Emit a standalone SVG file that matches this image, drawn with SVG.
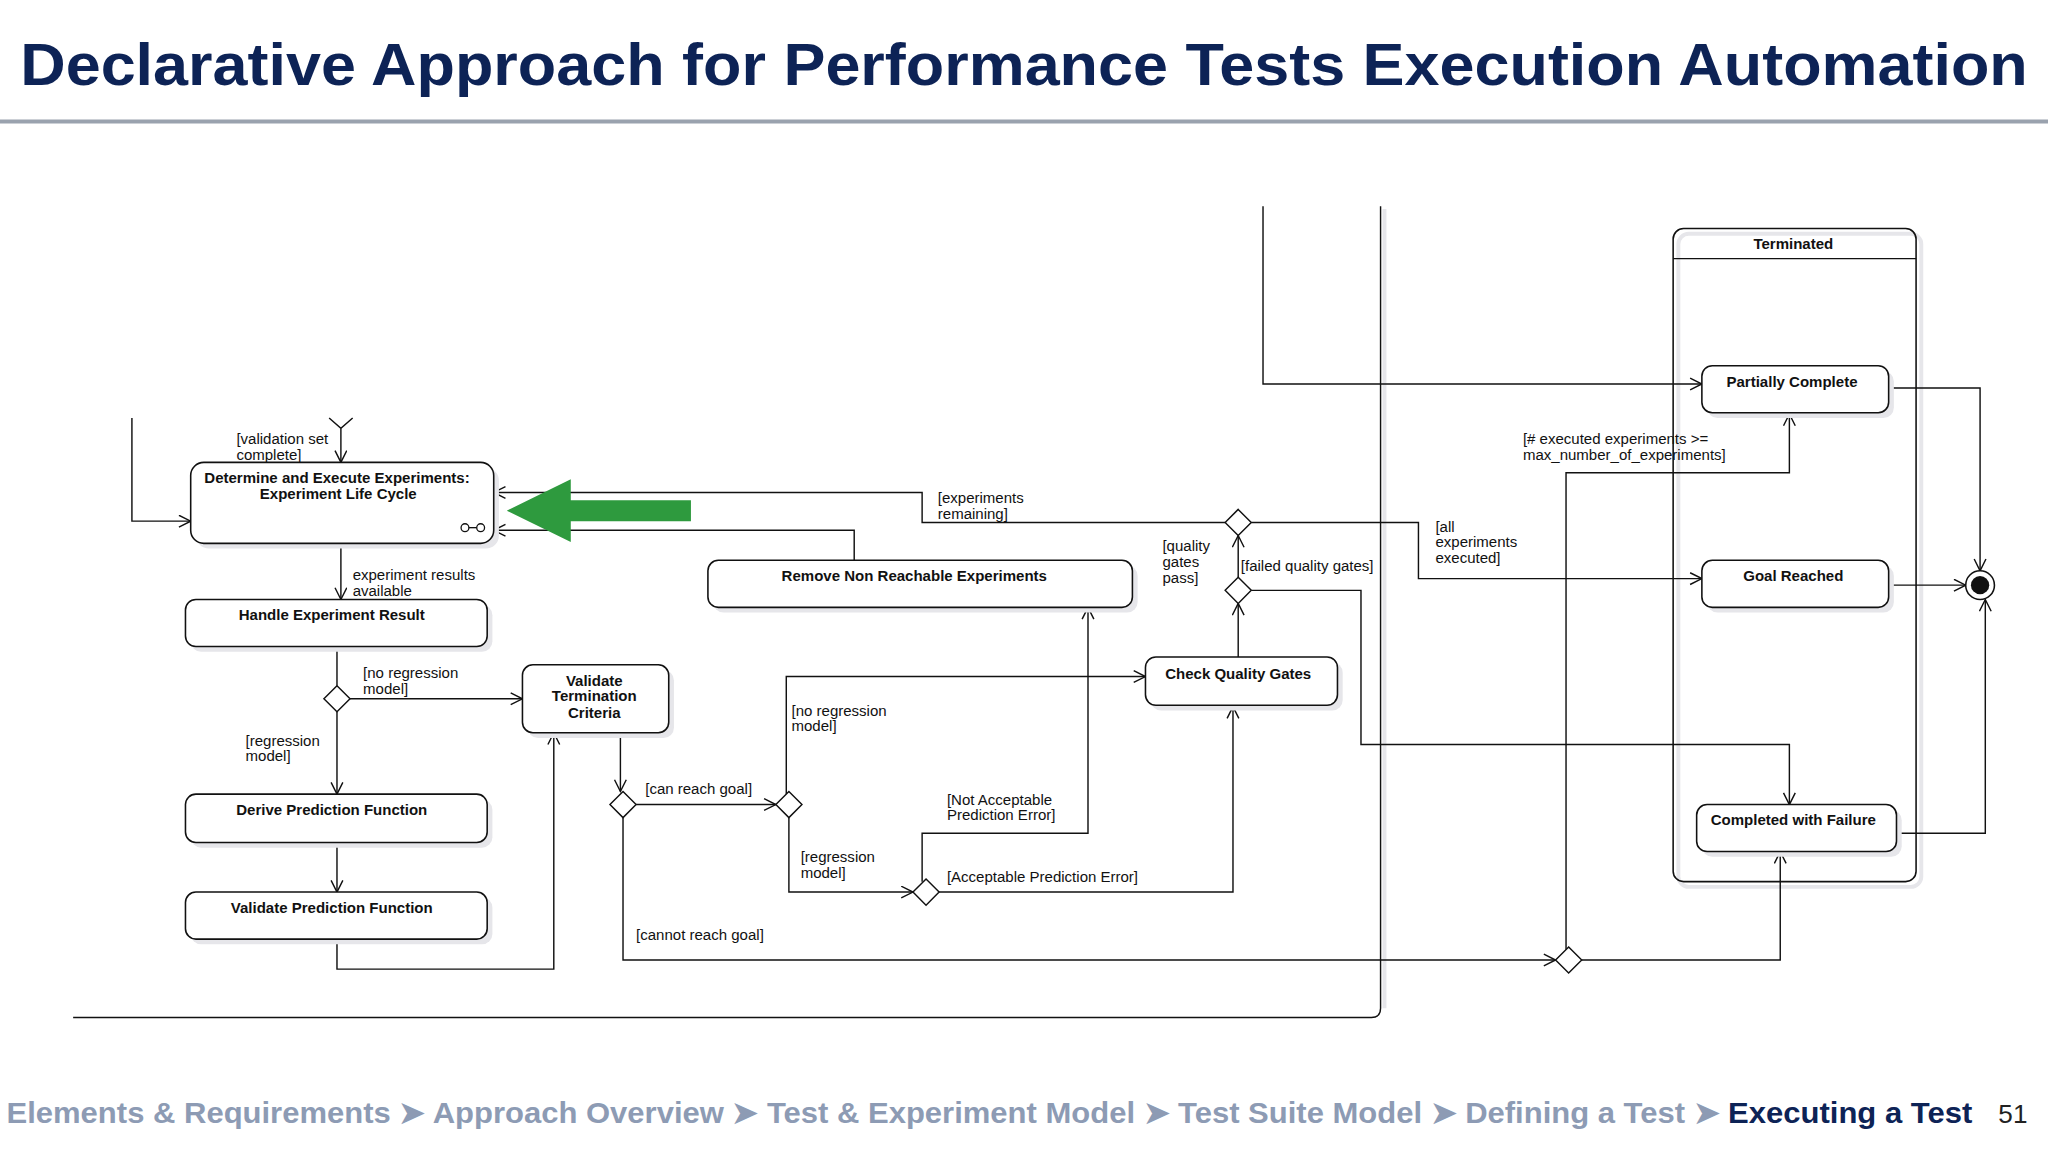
<svg xmlns="http://www.w3.org/2000/svg" width="2048" height="1152" viewBox="0 0 2048 1152">
<defs>
<style>
.t{font-family:"Liberation Sans",Arial,sans-serif;font-size:11.5px;fill:#111}
.b{font-family:"Liberation Sans",Arial,sans-serif;font-size:11.5px;font-weight:bold;fill:#111;text-anchor:middle}
.n{fill:#fff;stroke:#111;stroke-width:1.2}
.sh{fill:#e6e6ea}
.c{fill:none;stroke:#111;stroke-width:1.1}
.d{fill:#fff;stroke:#111;stroke-width:1.1}
.bc{font-family:"Century Gothic","Liberation Sans",Arial,sans-serif;font-size:23px;font-weight:bold;fill:#8d9bb4}
</style>
<marker id="a" markerWidth="12" markerHeight="12" refX="10" refY="5" orient="auto" markerUnits="userSpaceOnUse">
<polyline points="1,0.5 10,5 1,9.5" fill="none" stroke="#111" stroke-width="1.1"/>
</marker>
</defs>
<rect width="2048" height="1152" fill="#fff"/>
<g transform="scale(1.30612)">
<g id="title">
<text x="784" y="65" text-anchor="middle" textLength="1537" lengthAdjust="spacingAndGlyphs" style="font-family:'Liberation Sans',Arial,sans-serif;font-size:46px;font-weight:bold;fill:#0d2356">Declarative Approach for Performance Tests Execution Automation</text>
<line x1="0" y1="93" x2="1568" y2="93" stroke="#9aa2ae" stroke-width="3"/>
</g>
<g id="terminated">
<rect x="1285" y="179" width="186" height="500" rx="8" fill="none" stroke="#e6e6ea" stroke-width="3"/>
<rect x="1281" y="175" width="186" height="500" rx="8" fill="none" stroke="#111" stroke-width="1.2"/>
<line x1="1281" y1="198" x2="1467" y2="198" stroke="#111" stroke-width="1.1"/>
<text class="b" x="1373" y="191">Terminated</text>
</g>
<g id="connectors">
<polyline class="c" points="101,320 101,399 146,399" marker-end="url(#a)"/>
<path d="M1060,160 V772" stroke="#e6e6ea" stroke-width="3" fill="none"/>
<path class="c" d="M56,779 H1050 Q1057,779 1057,772 V158"/>
<polyline class="c" points="967,158 967,294 1303,294" marker-end="url(#a)"/>
<polyline class="c" points="252,320 261,328 270,320"/>
<line class="c" x1="261" y1="328" x2="261" y2="354" marker-end="url(#a)"/>
<line class="c" x1="261" y1="416" x2="261" y2="459" marker-end="url(#a)"/>
<line class="c" x1="258" y1="495" x2="258" y2="525"/>
<line class="c" x1="268" y1="535" x2="400" y2="535" marker-end="url(#a)"/>
<line class="c" x1="258" y1="545" x2="258" y2="608" marker-end="url(#a)"/>
<line class="c" x1="258" y1="645" x2="258" y2="683" marker-end="url(#a)"/>
<polyline class="c" points="258,719 258,742 424,742 424,561" marker-end="url(#a)"/>
<line class="c" x1="475" y1="561" x2="475" y2="606" marker-end="url(#a)"/>
<line class="c" x1="487" y1="616" x2="594" y2="616" marker-end="url(#a)"/>
<polyline class="c" points="477,626 477,735 1191,735" marker-end="url(#a)"/>
<polyline class="c" points="602,608 602,518 877,518" marker-end="url(#a)"/>
<polyline class="c" points="604,626 604,683 699,683" marker-end="url(#a)"/>
<polyline class="c" points="706,675 706,638 833,638 833,465" marker-end="url(#a)"/>
<polyline class="c" points="719,683 944,683 944,541" marker-end="url(#a)"/>
<line class="c" x1="948" y1="503" x2="948" y2="462" marker-end="url(#a)"/>
<line class="c" x1="948" y1="442" x2="948" y2="410" marker-end="url(#a)"/>
<polyline class="c" points="958,452 1042,452 1042,570 1370,570 1370,616" marker-end="url(#a)"/>
<polyline class="c" points="938,400 706,400 706,377 378,377" marker-end="url(#a)"/>
<polyline class="c" points="958,400 1086,400 1086,443 1303,443" marker-end="url(#a)"/>
<polyline class="c" points="654,429 654,406 378,406" marker-end="url(#a)"/>
<polyline class="c" points="1199,727 1199,362 1370,362 1370,317" marker-end="url(#a)"/>
<polyline class="c" points="1211,735 1363,735 1363,652" marker-end="url(#a)"/>
<polyline class="c" points="1446,297 1516,297 1516,437" marker-end="url(#a)"/>
<line class="c" x1="1446" y1="448" x2="1505" y2="448" marker-end="url(#a)"/>
<polyline class="c" points="1452,638 1520,638 1520,459" marker-end="url(#a)"/>
<polygon class="d" points="258,525 268,535 258,545 248,535"/>
<polygon class="d" points="477,606 487,616 477,626 467,616"/>
<polygon class="d" points="604,606 614,616 604,626 594,616"/>
<polygon class="d" points="709,673 719,683 709,693 699,683"/>
<polygon class="d" points="948,390 958,400 948,410 938,400"/>
<polygon class="d" points="948,442 958,452 948,462 938,452"/>
<polygon class="d" points="1201,725 1211,735 1201,745 1191,735"/>
<text class="t" x="181" y="340">[validation set</text><text class="t" x="181" y="352">complete]</text>
<text class="t" x="270" y="444">experiment results</text><text class="t" x="270" y="456">available</text>
<text class="t" x="278" y="519">[no regression</text><text class="t" x="278" y="531">model]</text>
<text class="t" x="188" y="571">[regression</text><text class="t" x="188" y="583">model]</text>
<text class="t" x="494" y="608">[can reach goal]</text>
<text class="t" x="487" y="720">[cannot reach goal]</text>
<text class="t" x="606" y="548">[no regression</text><text class="t" x="606" y="560">model]</text>
<text class="t" x="613" y="660">[regression</text><text class="t" x="613" y="672">model]</text>
<text class="t" x="725" y="616">[Not Acceptable</text><text class="t" x="725" y="628">Prediction Error]</text>
<text class="t" x="725" y="675">[Acceptable Prediction Error]</text>
<text class="t" x="890" y="422">[quality</text><text class="t" x="890" y="434">gates</text><text class="t" x="890" y="446">pass]</text>
<text class="t" x="950" y="437">[failed quality gates]</text>
<text class="t" x="718" y="385">[experiments</text><text class="t" x="718" y="397">remaining]</text>
<text class="t" x="1099" y="407">[all</text><text class="t" x="1099" y="419">experiments</text><text class="t" x="1099" y="431">executed]</text>
<text class="t" x="1166" y="340">[# executed experiments &gt;=</text><text class="t" x="1166" y="352">max_number_of_experiments]</text>
</g>
<g id="determine"><rect x="150" y="358" width="232" height="62" rx="10" class="sh"/><rect x="146" y="354" width="232" height="62" rx="10" class="n"/>
<text class="b" x="258" y="370">Determine and Execute Experiments:</text><text class="b" x="259" y="382">Experiment Life Cycle</text>
<circle cx="356" cy="404" r="3" fill="#fff" stroke="#111"/><circle cx="368" cy="404" r="3" fill="#fff" stroke="#111"/><line x1="359" y1="404" x2="365" y2="404" stroke="#111"/></g>
<g id="handle"><rect x="146" y="463" width="231" height="36" rx="8" class="sh"/><rect x="142" y="459" width="231" height="36" rx="8" class="n"/><text class="b" x="254" y="475">Handle Experiment Result</text></g>
<g id="derive"><rect x="146" y="612" width="231" height="37" rx="8" class="sh"/><rect x="142" y="608" width="231" height="37" rx="8" class="n"/><text class="b" x="254" y="624">Derive Prediction Function</text></g>
<g id="validatepf"><rect x="146" y="687" width="231" height="36" rx="8" class="sh"/><rect x="142" y="683" width="231" height="36" rx="8" class="n"/><text class="b" x="254" y="699">Validate Prediction Function</text></g>
<g id="vtc"><rect x="404" y="513" width="112" height="52" rx="8" class="sh"/><rect x="400" y="509" width="112" height="52" rx="8" class="n"/><text class="b" x="455" y="525">Validate</text><text class="b" x="455" y="537">Termination</text><text class="b" x="455" y="550">Criteria</text></g>
<g id="remove"><rect x="546" y="433" width="325" height="36" rx="8" class="sh"/><rect x="542" y="429" width="325" height="36" rx="8" class="n"/><text class="b" x="700" y="445">Remove Non Reachable Experiments</text></g>
<g id="cqg"><rect x="881" y="507" width="147" height="37" rx="8" class="sh"/><rect x="877" y="503" width="147" height="37" rx="8" class="n"/><text class="b" x="948" y="520">Check Quality Gates</text></g>
<g id="partial"><rect x="1307" y="284" width="143" height="36" rx="8" class="sh"/><rect x="1303" y="280" width="143" height="36" rx="8" class="n"/><text class="b" x="1372" y="296">Partially Complete</text></g>
<g id="goal"><rect x="1307" y="433" width="143" height="36" rx="8" class="sh"/><rect x="1303" y="429" width="143" height="36" rx="8" class="n"/><text class="b" x="1373" y="445">Goal Reached</text></g>
<g id="failure"><rect x="1303" y="620" width="153" height="36" rx="8" class="sh"/><rect x="1299" y="616" width="153" height="36" rx="8" class="n"/><text class="b" x="1373" y="632">Completed with Failure</text></g>
<g id="final"><circle cx="1516" cy="448" r="11" fill="#fff" stroke="#111" stroke-width="1.2"/><circle cx="1516" cy="448" r="7" fill="#111"/></g>
<g id="green"><polygon points="388,391 437,367 437,383 529,383 529,399 437,399 437,415" fill="#2e9a3e"/></g>
<g id="footer">
<text x="5" y="860" class="bc" textLength="1505" lengthAdjust="spacingAndGlyphs">Elements &amp; Requirements ➤ Approach Overview ➤ Test &amp; Experiment Model ➤ Test Suite Model ➤ Defining a Test ➤ <tspan fill="#0d2356">Executing a Test</tspan></text>
<text x="1530" y="860" style="font-family:'Liberation Sans',Arial,sans-serif;font-size:20px;fill:#222">51</text>
</g>
</g>
</svg>
